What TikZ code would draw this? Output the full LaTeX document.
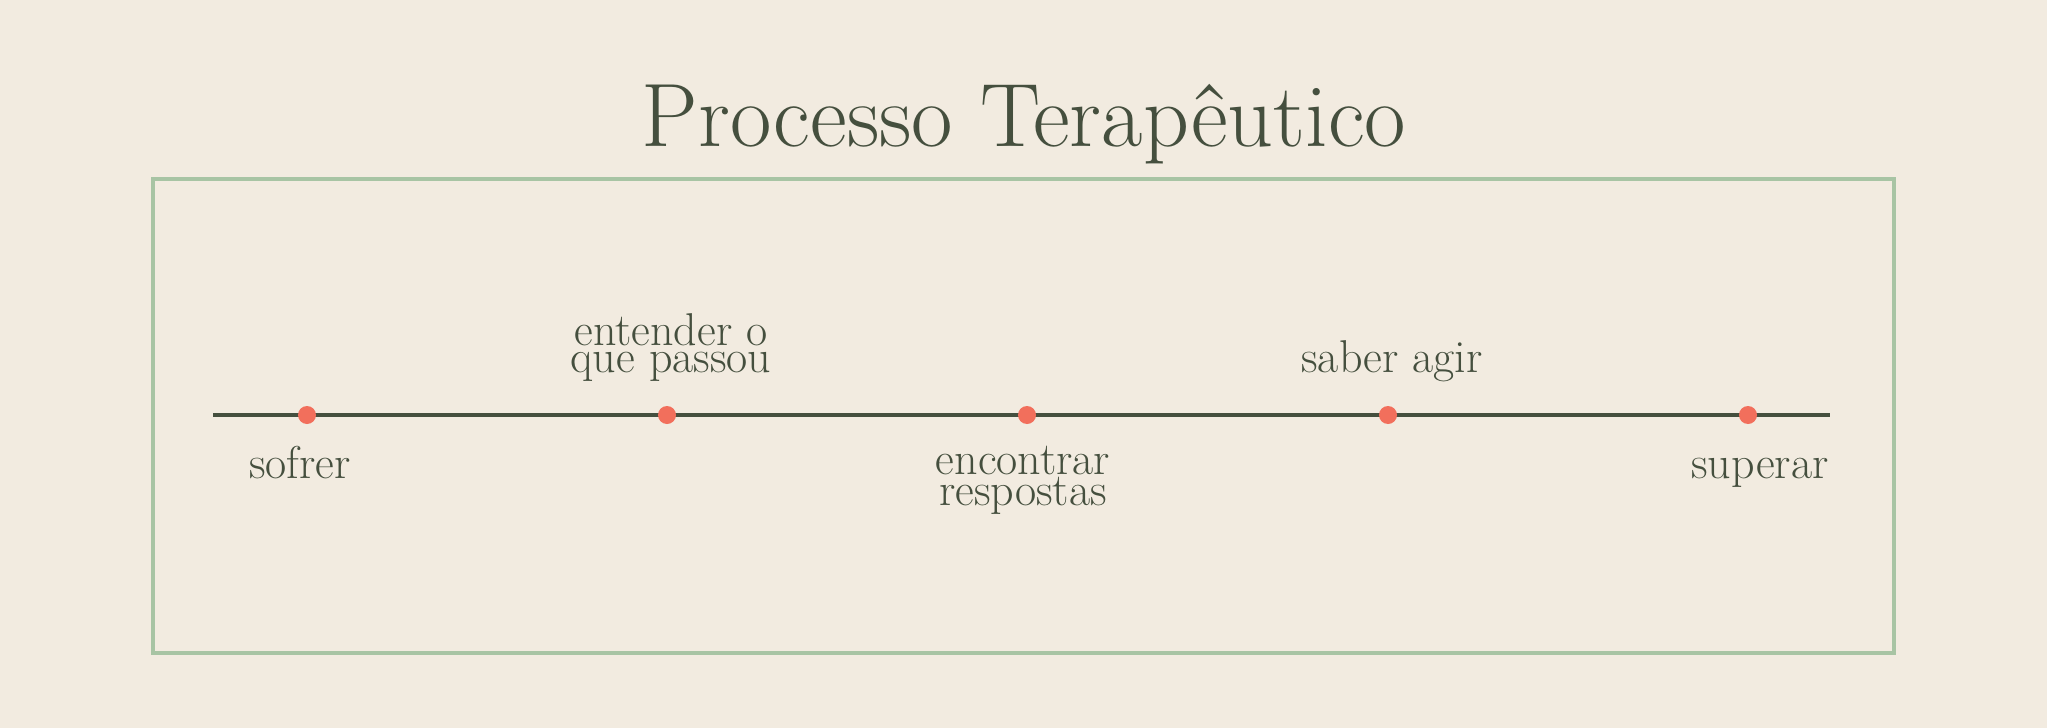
\documentclass[tikz,border=0pt]{standalone}
\usepackage{fontspec}
\usetikzlibrary{positioning,calc}
\definecolor{bgcream}{RGB}{242,235,224}
\definecolor{framegreen}{RGB}{168,196,164}
\definecolor{linedark}{RGB}{69,79,62}
\definecolor{dotcoral}{RGB}{242,111,92}
\tikzset{
  framebox/.style={draw=framegreen, line width=2pt},
  timeline/.style={draw=linedark, line width=1.8pt, line cap=butt},
  stagedot/.style={circle, fill=dotcoral, inner sep=0pt, minimum size=9pt},
  steplabel/.style={font=\fontsize{23}{13.5}\selectfont, text=linedark, align=center, anchor=base, inner sep=0pt},
  titletext/.style={font=\fontsize{45}{48}\selectfont, text=linedark, anchor=base, inner sep=0pt}
}

\begin{document}
\begin{tikzpicture}[x=0.5pt, y=-0.5pt]
  \fill[bgcream] (0,0) rectangle (2047,728);
  \useasboundingbox (0,0) rectangle (2047,728);

  \node[titletext] (title) at (1024,146) {Processo Terapêutico};
  \draw[framebox] (153,179) rectangle (1894,653);

  % timeline with five stages
  \coordinate (lineL) at (213,415);
  \coordinate (lineR) at (1830,415);
  \draw[timeline] (lineL) -- (lineR);

  \node[stagedot] (sofrer) at (307,415) {};
  \node[stagedot] (entender) at (667,415) {};
  \node[stagedot] (encontrar) at (1027,415) {};
  \node[stagedot] (saber) at (1388,415) {};
  \node[stagedot] (superar) at (1748,415) {};

  \node[steplabel] (sofrerlabel) at ($(sofrer)+(-7,63)$) {sofrer};
  \node[steplabel] (entenderlabel) at ($(entender)+(4,-43)$) {entender o\\que passou};
  \node[steplabel] (encontrarlabel) at ($(encontrar)+(-4,90)$) {encontrar\\respostas};
  \node[steplabel] (saberlabel) at ($(saber)+(4,-43)$) {saber agir};
  \node[steplabel] (superarlabel) at ($(superar)+(12,63)$) {superar};
\end{tikzpicture}
\end{document}
